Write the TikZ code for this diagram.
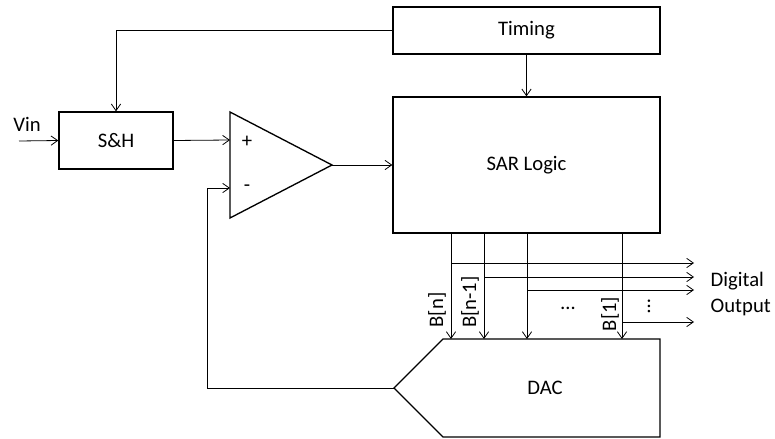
\documentclass[tikz,border=0pt]{standalone}
\usepackage{fontspec}
\setmainfont{Carlito}
\usetikzlibrary{arrows.meta, calc}

\tikzset{
	block/.style={draw, line width=1pt, inner sep=0pt},
	wire/.style={line width=0.6pt, -{Straight Barb[length=5pt, width=7pt]}},
	plain/.style={line width=0.6pt}
}

\begin{document}
\begin{tikzpicture}[x=0.75pt, y=-0.75pt, font=\fontsize{15.5}{18}\selectfont]

\useasboundingbox (0,0) rectangle (775,439);

% Define nodes and coordinates.

	%blocks
	\node[block, minimum width=200.25pt, minimum height=35.25pt] (timing) at (526.5, 30.5) {Timing};
	\node[block, minimum width=200.25pt, minimum height=102pt] (sar) at (526.5, 165) {SAR Logic};
	\node[block, minimum width=85.5pt, minimum height=42.75pt] (sh) at (116, 140.5) {S\&H};

	%input
	\coordinate (vinTail) at (19, 141);
	\node (vin) at (27, 124) {Vin};

	%comparator
	\coordinate (cmpTop) at (230, 112);
	\coordinate (cmpBottom) at (230, 218);
	\coordinate (cmpOut) at (332, 165);
	\coordinate (cmpPlus) at (230, 140);
	\coordinate (cmpMinus) at (230, 188);
	\node (plus) at (247, 142) {+};
	\node (minus) at (247, 188) {-};

	%DAC
	\coordinate (dacTip) at (394, 388);
	\coordinate (dacTopLeft) at (443, 339);
	\coordinate (dacTopRight) at (660, 339);
	\coordinate (dacBottomRight) at (660, 437);
	\coordinate (dacBottomLeft) at (443, 437);
	\node (dac) at (545, 388) {DAC};

	%feedback corner
	\coordinate (fbCorner) at (207, 388);

% Draw shapes.

	\draw[line width=1pt, line join=miter] (cmpTop) -- (cmpOut) -- (cmpBottom) -- cycle;
	\draw[line width=1pt, line join=miter] (dacTip) -- (dacTopLeft) -- (dacTopRight) -- (dacBottomRight) -- (dacBottomLeft) -- cycle;

% Draw connectors.

	\draw[wire] (vinTail) -- (sh.west);
	\draw[wire] (timing.west) -| (sh.north);
	\draw[wire] (timing.south) -- (sar.north);
	\draw[wire] (sh.east) -- (cmpPlus);
	\draw[wire] (cmpOut) -- (sar.west);
	\draw[wire] (dacTip) -- (fbCorner) |- (cmpMinus);

	%bit lines
	\foreach \x/\y [count=\i] in {451/263, 484/277, 527/290, 622/322}{
		\coordinate (bitTop\i) at (\x, 233);
		\coordinate (bitEnd\i) at (\x, 339);
		\coordinate (tap\i) at (\x, \y);
		\coordinate (outEnd\i) at (694, \y);
		\draw[wire] (bitTop\i) -- (bitEnd\i);
		\draw[wire] (tap\i) -- (outEnd\i);
	}

% Draw labels.

	\node[rotate=90] (bn) at (437, 310) {B[n]};
	\node[rotate=90] (bn1) at (470, 302) {B[n-1]};
	\node[rotate=90] (b1) at (610, 314) {B[1]};
	\node (hdots) at (568, 308) {…};
	\node[rotate=90] (vdots) at (649, 306) {…};
	\node[anchor=west, align=left] (digout) at (706, 294) {Digital\\[2pt]Output};

\end{tikzpicture}
\end{document}
